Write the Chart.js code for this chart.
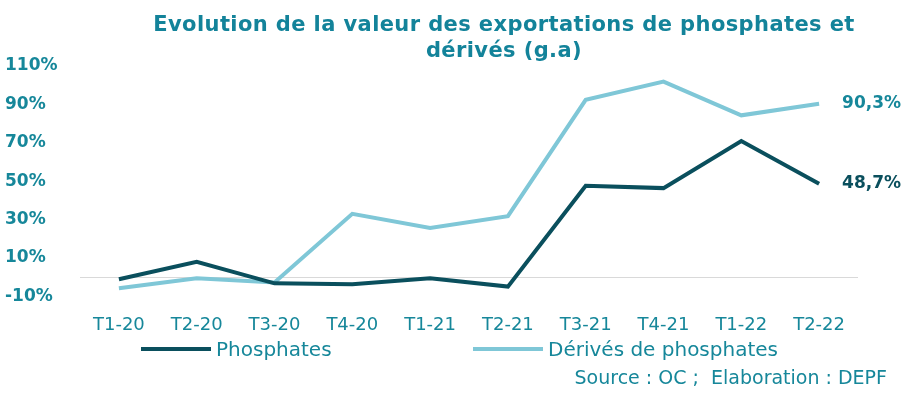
<!DOCTYPE html>
<html>
<head>
<meta charset="utf-8">
<script src="https://cdn.jsdelivr.net/npm/chart.js@4"></script>
<style>
  body { margin: 0; background: #fff; }
  .wrap { position: relative; width: 907px; height: 394px; font-family: "DejaVu Sans", sans-serif; color: #16879a; }
  .title { position: absolute; left: 104px; top: 11px; width: 800px; text-align: center; font-weight: bold; font-size: 21px; line-height: 26px; letter-spacing: 0.4px; color: #13839a; }
  .leg { position: absolute; top: 337px; height: 24px; display: flex; align-items: center; font-size: 20px; }
  .leg i { display: inline-block; width: 70px; height: 4px; margin-right: 5px; }
  .src { position: absolute; right: 20px; top: 366px; font-size: 19px; }
</style>
</head>
<body>
<div class="wrap">
  <canvas id="chart" width="907" height="394"></canvas>
  <div class="title">Evolution de la valeur des exportations de phosphates et<br>dérivés (g.a)</div>
  <div class="leg" style="left:141px"><i style="background:#0a4f5d"></i>Phosphates</div>
  <div class="leg" style="left:473px"><i style="background:#7fc7d7"></i>Dérivés de phosphates</div>
  <div class="src">Source : OC ;&nbsp; Elaboration : DEPF</div>
</div>
<script>
const quarters = ["T1-20", "T2-20", "T3-20", "T4-20", "T1-21", "T2-21", "T3-21", "T4-21", "T1-22", "T2-22"];
const phosphates = [-1.1, 8.0, -3.2, -3.7, -0.6, -4.9, 47.6, 46.4, 70.9, 48.7];
const derives = [-5.8, -0.6, -2.7, 33.0, 25.7, 31.8, 92.4, 101.9, 84.3, 90.3];
const yTicks = [-10, 10, 30, 50, 70, 90, 110];

const teal = "#16879a";

// thin grey line at 0%
const zeroLine = {
  id: "zeroLine",
  beforeDatasetsDraw(chart) {
    const { ctx, chartArea, scales } = chart;
    const y = Math.round(scales.y.getPixelForValue(0)) + 0.5;
    ctx.save();
    ctx.strokeStyle = "#d9d9d9";
    ctx.lineWidth = 1;
    ctx.beginPath();
    ctx.moveTo(chartArea.left, y);
    ctx.lineTo(chartArea.right, y);
    ctx.stroke();
    ctx.restore();
  },
};

// value label next to the last point of each line
const endLabels = {
  id: "endLabels",
  afterDatasetsDraw(chart) {
    const ctx = chart.ctx;
    chart.data.datasets.forEach((ds, i) => {
      const pts = chart.getDatasetMeta(i).data;
      const last = pts[pts.length - 1];
      const v = ds.data[ds.data.length - 1];
      ctx.save();
      ctx.font = "bold 17px 'DejaVu Sans'";
      ctx.fillStyle = ds.labelColor;
      ctx.textAlign = "left";
      ctx.textBaseline = "middle";
      ctx.fillText(v.toFixed(1).replace(".", ",") + "%", last.x + 23, last.y);
      ctx.restore();
    });
  },
};

new Chart(document.getElementById("chart"), {
  type: "line",
  data: {
    labels: quarters,
    datasets: [
      {
        label: "Phosphates",
        data: phosphates,
        borderColor: "#0a4f5d",
        labelColor: "#0a4f5d",
        borderWidth: 4,
        pointRadius: 0,
        tension: 0,
      },
      {
        label: "Dérivés de phosphates",
        data: derives,
        borderColor: "#7fc7d7",
        labelColor: teal,
        borderWidth: 4,
        pointRadius: 0,
        tension: 0,
      },
    ],
  },
  plugins: [zeroLine, endLabels],
  options: {
    responsive: false,
    animation: false,
    layout: { padding: { left: 5, right: 49, top: 66, bottom: 40 } },
    scales: {
      x: {
        offset: true,
        grid: { display: false, drawTicks: false },
        border: { display: false },
        ticks: { color: teal, padding: 18, font: { family: "DejaVu Sans", size: 18 } },
      },
      y: {
        min: -10,
        max: 110,
        afterBuildTicks: (s) => { s.ticks = yTicks.map((v) => ({ value: v })); },
        afterFit: (s) => { s.width = 75; },
        grid: { display: false, drawTicks: false },
        border: { display: false },
        ticks: {
          color: teal,
          crossAlign: "far",
          callback: (v) => v + "%",
          font: { family: "DejaVu Sans", size: 17, weight: "bold" },
        },
      },
    },
    plugins: {
      legend: { display: false },
      tooltip: { enabled: false },
    },
  },
});
</script>
</body>
</html>
